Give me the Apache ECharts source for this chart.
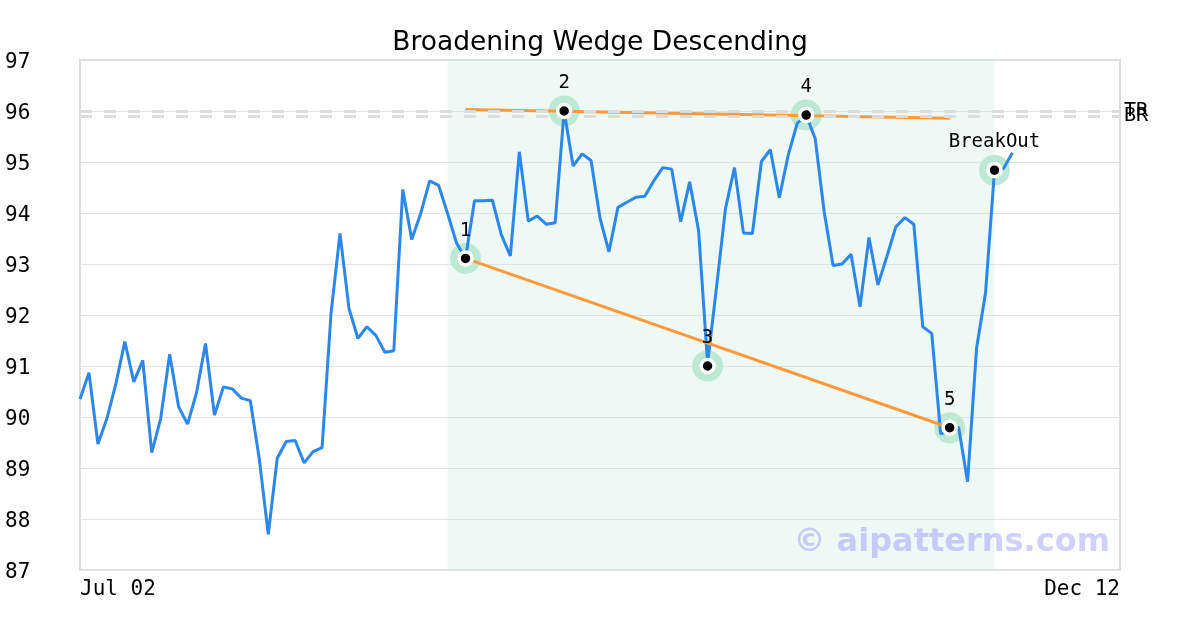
<!DOCTYPE html>
<html>
<head>
<meta charset="utf-8">
<script src="https://cdn.jsdelivr.net/npm/echarts@6/dist/echarts.min.js"></script>
<style>html,body{margin:0;padding:0;background:#fff}#c{width:1200px;height:630px}</style>
</head>
<body>
<div id="c"></div>
<script>
// ---- data ----
const startDate = '2024-07-02';
const endDate = '2024-12-12';
const holidays = ['2024-07-04'];
const prices = [
  90.35, 90.87, 89.47, 89.97, 90.65, 91.48, 90.69, 91.11, 89.30, 89.97,
  91.23, 90.20, 89.86, 90.48, 91.44, 90.04, 90.59, 90.55, 90.37, 90.32,
  89.17, 87.70, 89.19, 89.52, 89.54, 89.10, 89.32, 89.40, 92.03, 93.60,
  92.13, 91.54, 91.77, 91.60, 91.27, 91.30, 94.46, 93.48, 93.99, 94.63,
  94.54, 93.99, 93.41, 93.11, 94.24, 94.24, 94.25, 93.57, 93.16, 95.20,
  93.84, 93.94, 93.78, 93.81, 96.00, 94.92, 95.16, 95.03, 93.90, 93.24,
  94.11, 94.21, 94.31, 94.33, 94.63, 94.89, 94.86, 93.83, 94.61, 93.65,
  91.05, 92.55, 94.09, 94.89, 93.61, 93.60, 95.01, 95.24, 94.30, 95.14,
  95.76, 95.92, 95.46, 94.03, 92.97, 93.00, 93.19, 92.16, 93.52, 92.59,
  93.15, 93.73, 93.91, 93.78, 91.77, 91.64, 89.67, 89.72, 89.80, 88.73,
  91.35, 92.43, 94.83, 94.87, 95.18
];
const pivotIdx = [43, 54, 70, 81, 97, 102];
const pivotVal = [93.11, 96.00, 91.00, 95.92, 89.79, 94.84];
const pivotLabels = ['1', '2', '3', '4', '5', 'BreakOut'];
const upperLine = [[43, 96.03], [97, 95.86]];
const lowerLine = [[43, 93.11], [97, 89.79]];
const patternRange = [41, 102];
const levelNames = ['TR', 'BR'];
const levelValues = [96.0, 95.9];
const yTicks = {min: 87, max: 97, interval: 1};

// ---- categories (trading days) ----
const months = ['Jan','Feb','Mar','Apr','May','Jun','Jul','Aug','Sep','Oct','Nov','Dec'];
const dates = [];
(function(){
  let d = new Date(startDate + 'T00:00:00Z');
  const e = new Date(endDate + 'T00:00:00Z');
  while (d <= e) {
    const iso = d.toISOString().slice(0,10);
    const wd = d.getUTCDay();
    if (wd !== 0 && wd !== 6 && holidays.indexOf(iso) < 0) {
      dates.push(months[d.getUTCMonth()] + ' ' + String(d.getUTCDate()).padStart(2,'0'));
    }
    d = new Date(d.getTime() + 86400000);
  }
})();
const lastIdx = dates.length - 1;

const mono = 'DejaVu Sans Mono';
const chart = echarts.init(document.getElementById('c'), null, {renderer: 'canvas'});
chart.setOption({
  animation: false,
  backgroundColor: '#fff',
  title: {
    text: 'Broadening Wedge Descending', left: 'center', top: 25,
    textStyle: {fontFamily: 'DejaVu Sans', fontSize: 26.5, fontWeight: 'normal', color: '#000'}
  },
  grid: {left: 80, right: 80, top: 60, bottom: 60, show: true, borderColor: '#dddddd', borderWidth: 2, backgroundColor: 'transparent'},
  xAxis: {
    type: 'category', data: dates, boundaryGap: false,
    axisLine: {show: false}, axisTick: {show: false},
    splitLine: {show: false},
    axisLabel: {
      interval: function(i){ return i === 0 || i === lastIdx; },
      showMinLabel: true, showMaxLabel: true,
      alignMinLabel: 'left', alignMaxLabel: 'right',
      fontFamily: mono, fontSize: 21, color: '#000', margin: 9
    }
  },
  yAxis: {
    type: 'value', min: yTicks.min, max: yTicks.max, interval: yTicks.interval,
    axisLine: {show: false}, axisTick: {show: false},
    splitLine: {lineStyle: {color: '#e3e3e3', width: 1}},
    axisLabel: {
      align: 'left', margin: 75,
      formatter: '{v|{value}}',
      rich: {v: {fontFamily: mono, fontSize: 21, color: '#000', padding: [6, 0, 0, 0]}}
    }
  },
  graphic: [{
    type: 'text', right: 90, top: 527, z: 100,
    style: {text: '© aipatterns.com', font: 'bold 32px "DejaVu Sans"', fill: 'rgba(110,110,255,0.32)'}
  }],
  series: [
    {
      type: 'scatter', z: 2, symbolSize: 31, silent: true,
      itemStyle: {color: '#bde8d3', opacity: 1},
      data: pivotIdx.map((x, i) => [x, pivotVal[i]])
    },
    {
      type: 'line', data: prices, showSymbol: false, z: 3,
      lineStyle: {color: '#2b87e8', width: 3},
      itemStyle: {color: '#2b87e8'},
      markArea: {
        silent: true,
        itemStyle: {color: 'rgba(200,232,218,0.3)'},
        data: [[{xAxis: dates[patternRange[0]]}, {xAxis: dates[patternRange[1]]}]]
      },
      markLine: {
        silent: true, symbol: 'none',
        lineStyle: {color: '#dcdcdc', type: [12, 12], width: 3},
        label: {position: 'end', color: '#000', fontFamily: mono, fontSize: 20, distance: 4},
        data: levelValues.map((v, i) => ({yAxis: v, label: {formatter: levelNames[i]}}))
      }
    },
    {
      type: 'line', data: upperLine, showSymbol: false, z: 4,
      lineStyle: {color: '#ff9a3c', width: 3}
    },
    {
      type: 'line', data: lowerLine, showSymbol: false, z: 4,
      lineStyle: {color: '#ff9a3c', width: 3}
    },
    {
      type: 'scatter', z: 6, symbolSize: 13, silent: true,
      itemStyle: {color: '#000', borderColor: '#fff', borderWidth: 3.5, opacity: 1},
      label: {
        show: true, position: 'top', distance: 10, color: '#000', fontFamily: mono, fontSize: 19,
        formatter: p => pivotLabels[p.dataIndex]
      },
      data: pivotIdx.map((x, i) => [x, pivotVal[i]])
    }
  ]
});
</script>
</body>
</html>
